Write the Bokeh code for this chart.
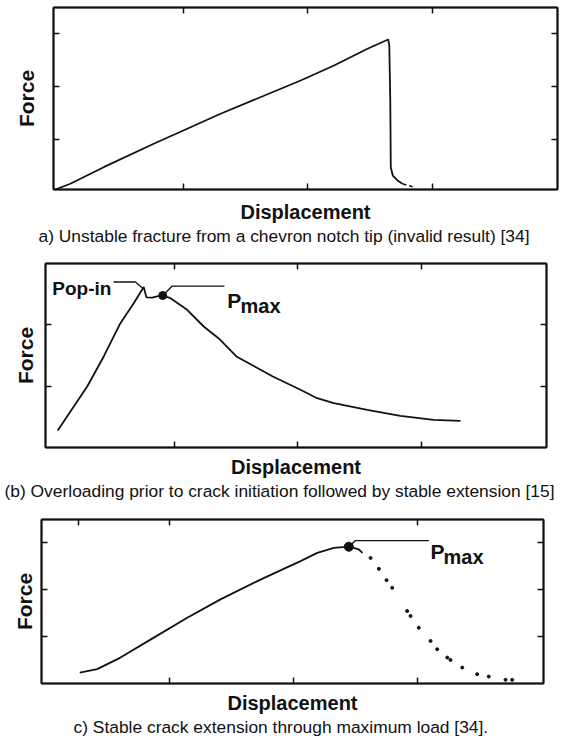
import math
from bokeh.plotting import figure
from bokeh.models import (LinearAxis, FixedTicker, Label, Range1d, Title,
                          CustomJSTickFormatter)
from bokeh.embed import file_html
from bokeh.resources import INLINE

# ---------------- data (tick units) ----------------
# (a) unstable fracture
a_x = [-0.030, 0.091, 0.359, 0.761, 1.030, 1.298, 1.941, 2.209, 2.478, 2.644,
       2.653, 2.661, 2.665, 2.681, 2.719, 2.759]
a_y = [0.062, 0.170, 0.483, 0.925, 1.208, 1.491, 2.119, 2.402, 2.717, 2.892,
       2.780, 1.740, 0.483, 0.326, 0.232, 0.170]
a_tail_x = [2.759, 2.800, 2.840]
a_tail_y = [0.170, 0.140, 0.115]

# (b) pop-in then stable extension
b_x = [0.054, 0.293, 0.427, 0.562, 0.670, 0.751, 0.773, 0.819, 0.860, 0.905,
       0.968, 1.103, 1.237, 1.357, 1.502, 1.650, 1.797, 2.021, 2.156, 2.291,
       2.562, 2.831, 3.101, 3.318]
b_y = [0.294, 1.000, 1.482, 2.016, 2.337, 2.597, 2.430, 2.425, 2.445, 2.460,
       2.417, 2.231, 1.963, 1.775, 1.482, 1.321, 1.161, 0.947, 0.812, 0.732,
       0.626, 0.530, 0.465, 0.449]
b_popin = (0.745, 2.573)
b_pmax = (0.905, 2.460)

# (c) stable crack extension through maximum load
c_x = [0.272, 0.413, 0.601, 0.871, 1.141, 1.410, 1.733, 2.057, 2.192, 2.326,
       2.447, 2.528, 2.558]
c_y = [0.234, 0.306, 0.553, 0.979, 1.404, 1.796, 2.217, 2.611, 2.787, 2.894,
       2.919, 2.860, 2.787]
c_dots_x = [2.623, 2.690, 2.752, 2.798, 2.919, 2.946, 3.013, 3.108, 3.162,
            3.243, 3.269, 3.364, 3.485, 3.579, 3.714, 3.768]
c_dots_y = [2.681, 2.447, 2.206, 2.043, 1.547, 1.440, 1.191, 0.909, 0.732,
            0.553, 0.504, 0.340, 0.200, 0.149, 0.079, 0.079]
c_pmax = (2.447, 2.919)

x_ticks = [1, 2, 3]
y_ticks_a = [1, 2, 3]
y_ticks_b = [1, 2]
y_ticks_c = [1, 2, 3]
x_ticks_top_c = [0.26, 1, 3]

x_label = "Displacement"
y_label = "Force"
captions = [
    "a) Unstable fracture from a chevron notch tip (invalid result) [34]",
    "(b) Overloading prior to crack initiation followed by stable extension [15]",
    "c) Stable crack extension through maximum load [34].",
]

FONT = "Liberation Sans"
INK = "#111111"
BLANK = CustomJSTickFormatter(code="return ''")


def style_axis(ax):
    ax.major_tick_in = 6
    ax.major_tick_out = 0
    ax.minor_tick_line_color = None
    ax.formatter = BLANK
    ax.major_label_text_font_size = "1px"
    ax.major_label_standoff = 0
    ax.axis_line_width = 2
    ax.axis_line_color = INK
    ax.major_tick_line_width = 1.5
    ax.major_tick_line_color = INK
    ax.axis_label_text_font = FONT
    ax.axis_label_text_font_style = "bold"
    ax.axis_label_text_color = INK


def make_panel(fw, fh, left, right, top, bottom, xr, yr, xb, xt, yt,
               ylab_standoff, xlab_standoff, caption, cap_offset):
    p = figure(frame_width=fw, frame_height=fh,
               min_border_left=left, min_border_right=right,
               min_border_top=top, min_border_bottom=bottom,
               x_range=Range1d(*xr), y_range=Range1d(*yr),
               x_axis_location=None, y_axis_location=None,
               output_backend="svg", toolbar_location=None)
    p.grid.visible = False
    axes = {}
    for loc, ticks in (("below", xb), ("above", xt)):
        ax = LinearAxis(ticker=FixedTicker(ticks=ticks))
        style_axis(ax)
        axes[loc] = ax
    for loc in ("left", "right"):
        ax = LinearAxis(ticker=FixedTicker(ticks=yt))
        style_axis(ax)
        axes[loc] = ax
    axes["left"].axis_label = y_label
    axes["left"].axis_label_text_font_size = "21px"
    axes["left"].axis_label_standoff = ylab_standoff
    axes["below"].axis_label = x_label
    axes["below"].axis_label_text_font_size = "20px"
    axes["below"].axis_label_standoff = xlab_standoff
    for loc, ax in axes.items():
        p.add_layout(ax, loc)
    t = Title(text=caption, align="left", offset=cap_offset,
              text_font=FONT, text_font_size="17.4px",
              text_font_style="normal", text_color=INK,
              vertical_align="top", standoff=0)
    p.add_layout(t, "below")
    p.outline_line_color = INK
    p.outline_line_width = 1.5
    p.background_fill_color = "white"
    p.border_fill_color = "white"
    return p


def text(p, x, y, s, size, align="left"):
    p.add_layout(Label(x=x, y=y, text=s, text_font=FONT,
                       text_font_size=size, text_font_style="bold",
                       text_color=INK, text_align=align,
                       text_baseline="alphabetic"))


# ---------------- panel a ----------------
pa = make_panel(504, 182, 53, 13, 7, 57, (-0.044, 4.004), (0.062, 3.496),
                x_ticks, x_ticks, y_ticks_a, 16, 11, captions[0], -15)
pa.line(a_x, a_y, line_color=INK, line_width=1.8)
pa.line(a_tail_x, a_tail_y, line_color=INK, line_width=1.6, line_dash="4 3")

# ---------------- panel b ----------------
pb = make_panel(501, 184, 45, 24, 16, 57, (-0.045, 4.015), (0.021, 2.974),
                x_ticks, x_ticks, y_ticks_b, 9, 8, captions[1], -41)
pb.line(b_x, b_y, line_color=INK, line_width=1.8)
px, py = b_popin
pb.line([0.506, 0.684, px], [2.677, 2.677, py], line_color=INK, line_width=1.3)
mx, my = b_pmax
pb.line([mx, mx + 0.075, 1.405], [my, my + 0.15, my + 0.15],
        line_color=INK, line_width=1.3)
pb.scatter([mx], [my], size=8, color=INK)
text(pb, 0.489, 2.573, "Pop-in", "19px", align="right")
text(pb, 1.427, 2.388, "P", "21px")
text(pb, 1.535, 2.284, "max", "20px")

# ---------------- panel c ----------------
pc = make_panel(502, 164, 41, 27, 15, 54, (-0.037, 4.021), (0.0, 3.5),
                x_ticks, x_ticks_top_c, y_ticks_c, 6, 8, captions[2], 32)
pc.line(c_x, c_y, line_color=INK, line_width=1.8)
pc.scatter(c_dots_x, c_dots_y, size=3, color=INK)
cx, cy = c_pmax
pc.line([cx, cx + 0.054, 3.094], [cy, cy + 0.132, cy + 0.132],
        line_color=INK, line_width=1.3)
pc.scatter([cx], [cy], size=9, color=INK)
text(pc, 3.108, 2.823, "P", "21px")
text(pc, 3.213, 2.702, "max", "20px")

# three independent roots, stacked by the page (no frame alignment)
open("out.html", "w").write(file_html([pa, pb, pc], INLINE))
